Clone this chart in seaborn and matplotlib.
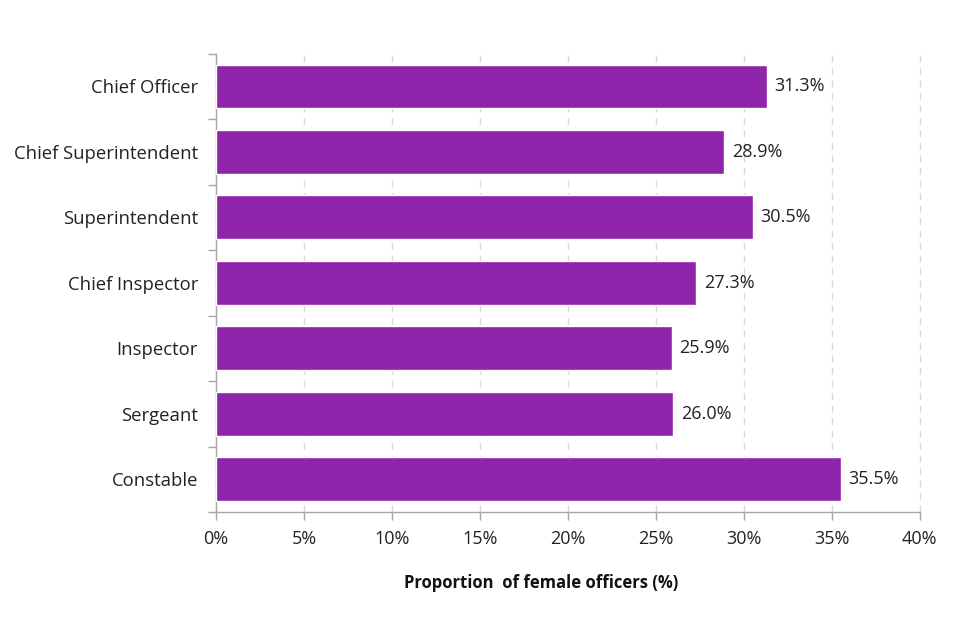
import numpy as np
import pandas as pd
import matplotlib
matplotlib.use('Agg')
import matplotlib.pyplot as plt
import seaborn as sns
from matplotlib.ticker import FixedLocator

# data
ranks = ['Chief Officer', 'Chief Superintendent', 'Superintendent', 'Chief Inspector',
         'Inspector', 'Sergeant', 'Constable']
female_pct = [31.3, 28.9, 30.5, 27.3, 25.9, 26.0, 35.5]
x_ticks = [0, 5, 10, 15, 20, 25, 30, 35, 40]

df = pd.DataFrame({'rank': ranks, 'pct': female_pct})

sns.set_theme(style='white')
plt.rcParams['font.family'] = ['Open Sans', 'DejaVu Sans']

fig, ax = plt.subplots(figsize=(9.6, 6.4), dpi=100)
fig.subplots_adjust(left=0.225, right=0.958, top=0.916, bottom=0.2)

sns.barplot(data=df, x='pct', y='rank', color='#8E24AA', saturation=1,
            width=0.67, ax=ax, zorder=3)

ax.set_xlim(0, 40)
ax.set_ylim(len(ranks) - 0.5, -0.5)
ax.set_xticks(x_ticks)
ax.set_xticklabels([f'{t}%' for t in x_ticks], fontsize=13, color='#222222')
ax.xaxis.grid(True, linestyle=(0, (5, 4)), color='#d9d9d9', linewidth=1, zorder=0)
for gl in ax.get_xgridlines():
    gl.set_clip_on(False)
ax.yaxis.grid(False)

# y tick marks sit between categories
ax.tick_params(axis='y', which='major', length=0, labelsize=13.3, labelcolor='#222222', pad=13)
ax.yaxis.set_minor_locator(FixedLocator(np.arange(-0.5, len(ranks), 1)))
ax.tick_params(axis='y', which='minor', length=6, color='#a6a6a6', width=1, left=True)
ax.tick_params(axis='x', length=6, color='#a6a6a6', width=1, bottom=True, labelsize=13, pad=7)

for side in ['top', 'right']:
    ax.spines[side].set_visible(False)
for side in ['left', 'bottom']:
    ax.spines[side].set_color('#a6a6a6')
    ax.spines[side].set_linewidth(1)

for i, v in enumerate(female_pct):
    ax.text(v + 0.45, i, f'{v:.1f}%', va='center', ha='left', fontsize=13, color='#222222')

ax.set_ylabel('')
ax.set_xlabel('Proportion  of female officers (%)', fontsize=12, fontweight='bold', color='#111111')
ax.xaxis.set_label_coords(0.462, -0.135)

fig.savefig('out.png', dpi=100, facecolor='white')
